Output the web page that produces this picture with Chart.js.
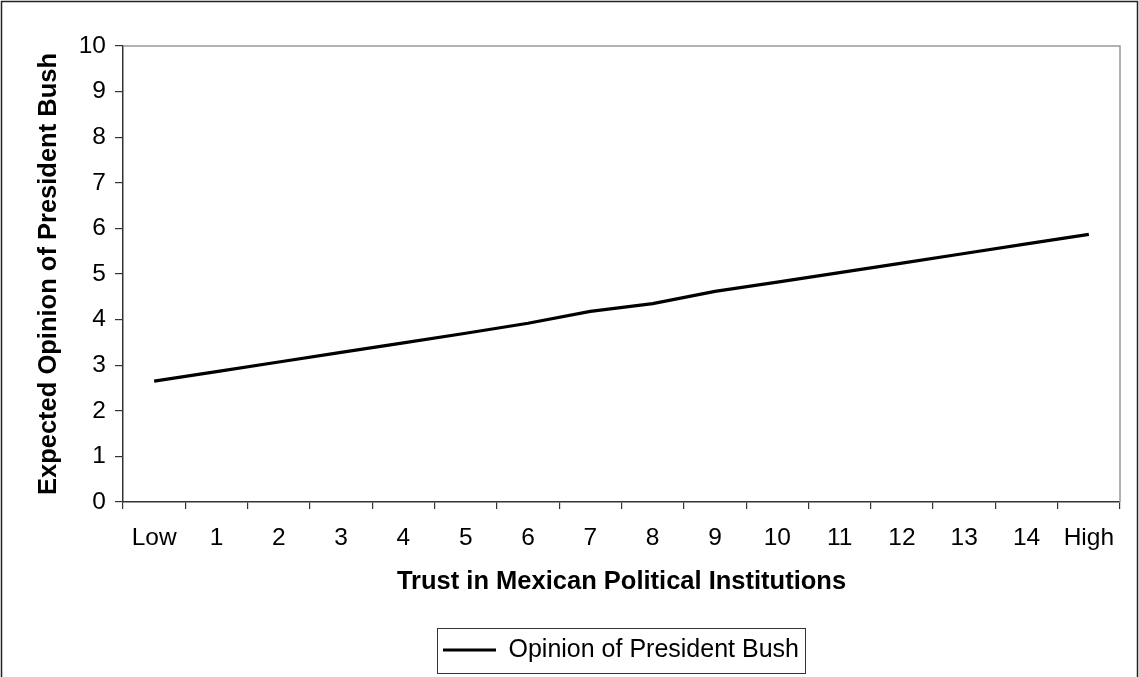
<!DOCTYPE html>
<html>
<head>
<meta charset="utf-8">
<script src="https://cdn.jsdelivr.net/npm/chart.js@4.4.0/dist/chart.umd.min.js"></script>
<style>
html,body{margin:0;padding:0;background:#fff;}
#wrap{width:1139px;height:677px;position:relative;overflow:hidden;}
canvas{display:block;}
</style>
</head>
<body>
<div id="wrap"><canvas id="c" width="1139" height="677"></canvas></div>
<script>
// ---- data ----
const categories = ['Low','1','2','3','4','5','6','7','8','9','10','11','12','13','14','High'];
const opinionValues = [2.65, 2.86, 3.07, 3.28, 3.49, 3.70, 3.92, 4.18, 4.35, 4.62, 4.82, 5.03, 5.24, 5.45, 5.66, 5.87];
const yTickValues = [0,1,2,3,4,5,6,7,8,9,10];
const seriesLabel = 'Opinion of President Bush';
const xTitle = 'Trust in Mexican Political Institutions';
const yTitle = 'Expected Opinion of President Bush';

const FONT = "'Liberation Sans', Arial, sans-serif";

const framePlugin = {
  id: 'frame',
  afterLayout(chart) {
    const lg = chart.legend;
    if (lg) {
      const pad = lg.options.labels.padding;
      const w = lg.width;
      lg.left = 443 - pad;
      lg.right = lg.left + w;
      const h = lg.height;
      lg.top = 627.5;
      lg.bottom = lg.top + h;
    }
  },
  beforeDatasetsDraw(chart) {
    const {ctx, chartArea: a} = chart;
    ctx.save();
    ctx.strokeStyle = '#999';
    ctx.lineWidth = 1.5;
    ctx.beginPath();
    ctx.moveTo(a.left, a.top);
    ctx.lineTo(a.right, a.top);
    ctx.lineTo(a.right, a.bottom);
    ctx.stroke();
    ctx.restore();
  },
  afterDraw(chart) {
    const {ctx} = chart;
    ctx.save();
    ctx.strokeStyle = '#222';
    ctx.lineWidth = 1.5;
    ctx.beginPath();
    ctx.moveTo(1.5, 680);
    ctx.lineTo(1.5, 1.5);
    ctx.lineTo(1137.5, 1.5);
    ctx.lineTo(1137.5, 680);
    ctx.stroke();
    const lg = chart.legend;
    if (lg && lg.legendHitBoxes && lg.legendHitBoxes.length) {
      ctx.strokeStyle = '#333';
      ctx.lineWidth = 1;
      ctx.strokeRect(437.5, 628.5, 368, 45);
    }
    ctx.restore();
  }
};

new Chart(document.getElementById('c'), {
  type: 'line',
  data: {
    labels: categories,
    datasets: [{
      label: seriesLabel,
      data: opinionValues,
      borderColor: '#000',
      backgroundColor: '#000',
      borderWidth: 3.2,
      pointRadius: 0,
      tension: 0,
      fill: false
    }]
  },
  options: {
    responsive: false,
    animation: false,
    devicePixelRatio: 1,
    layout: { padding: { left: 0, top: 46, right: 19, bottom: 30 } },
    plugins: {
      legend: {
        display: true,
        position: 'bottom',
        align: 'start',
        labels: {
          usePointStyle: true,
          pointStyle: 'line',
          pointStyleWidth: 53,
          color: '#000',
          padding: 10,
          font: { family: FONT, size: 25 }
        }
      },
      tooltip: { enabled: false }
    },
    scales: {
      x: {
        type: 'category',
        offset: true,
        grid: { offset: true, drawOnChartArea: false, drawTicks: true, tickLength: 7, color: '#333', lineWidth: 1.2 },
        border: { color: '#333', width: 1.5 },
        ticks: { color: '#000', font: { family: FONT, size: 24.5 }, padding: 15, maxRotation: 0, autoSkip: false },
        title: { display: true, text: xTitle, color: '#000', font: { family: FONT, size: 25.5, weight: 'bold' }, padding: { top: 0, bottom: 5 } },
        afterFit(s) { s.height = 100; }
      },
      y: {
        min: 0, max: 10,
        afterBuildTicks(s) { s.ticks = yTickValues.map(v => ({ value: v })); },
        grid: { drawOnChartArea: false, drawTicks: true, tickLength: 8, color: '#333', lineWidth: 1.2 },
        border: { color: '#333', width: 1.5 },
        ticks: { color: '#000', font: { family: FONT, size: 24.5 }, padding: 9 },
        title: { display: true, text: yTitle, color: '#000', font: { family: FONT, size: 25.5, weight: 'bold' }, padding: { top: 34, bottom: 0 } },
        afterFit(s) { s.width = 123; }
      }
    }
  },
  plugins: [framePlugin]
});
</script>
</body>
</html>
